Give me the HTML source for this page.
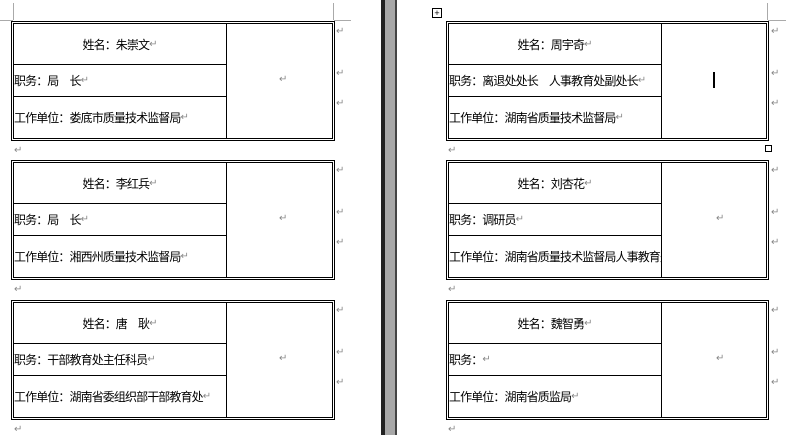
<!DOCTYPE html>
<html><head><meta charset="utf-8"><style>
body{margin:0;width:786px;height:435px;background:#fff;position:relative;overflow:hidden;font-family:"Liberation Sans","Noto Sans CJK SC","WenQuanYi Zen Hei",sans-serif;font-size:12px;color:#000}
.a{position:absolute}
.t{position:absolute;height:120px;box-sizing:border-box;border:3px double #000}
.c{position:absolute;left:0;display:flex;align-items:center;white-space:nowrap;box-sizing:border-box;letter-spacing:-0.9px}
.r1{top:0;height:41px;justify-content:center;border-bottom:1px solid #000}
.r2{top:41px;height:32px;border-bottom:1px solid #000}
.r3{top:73px;height:41px}
.v{position:absolute;top:0;bottom:0;border-left:1px solid #000}
.p{color:#888;font-size:10px;letter-spacing:0}
.pm{position:absolute;color:#888;font-size:10px}
</style></head><body>
<div class="a" style="left:381px;top:0;width:4px;height:435px;background:#222"></div>
<div class="a" style="left:385px;top:0;width:10px;height:435px;background:#a8a8a8"></div>
<div class="a" style="left:395px;top:0;width:2px;height:435px;background:#444"></div>
<div class="a" style="left:13px;top:3px;width:1px;height:17px;background:#aaa"></div>
<div class="a" style="left:0;top:20px;width:13px;height:1px;background:#aaa"></div>
<div class="a" style="left:333px;top:3px;width:1px;height:17px;background:#aaa"></div>
<div class="a" style="left:334px;top:20px;width:17px;height:1px;background:#aaa"></div>
<div class="a" style="left:767px;top:3px;width:1px;height:17px;background:#aaa"></div>
<div class="a" style="left:768px;top:20px;width:18px;height:1px;background:#aaa"></div>
<div class="a" style="left:432px;top:8px;width:10px;height:10px;border:1px solid #000;box-sizing:border-box;font-size:9px;line-height:8px;text-align:center">+</div>
<div class="a" style="left:765px;top:145px;width:7px;height:7px;border:1px solid #000;box-sizing:border-box"></div>
<div class="a" style="left:713px;top:72px;width:2px;height:16px;background:#000"></div>

<div class="t" style="left:11px;top:21px;width:324px"><div class="v" style="left:212px"></div>
<div class="c r1" style="width:212px">姓名：朱崇文<span class="p">↵</span></div>
<div class="c r2" style="width:212px">职务：局　长<span class="p">↵</span></div>
<div class="c r3" style="width:212px">工作单位：娄底市质量技术监督局<span class="p">↵</span></div></div>
<div class="t" style="left:11px;top:160px;width:324px"><div class="v" style="left:212px"></div>
<div class="c r1" style="width:212px">姓名：李红兵<span class="p">↵</span></div>
<div class="c r2" style="width:212px">职务：局　长<span class="p">↵</span></div>
<div class="c r3" style="width:212px">工作单位：湘西州质量技术监督局<span class="p">↵</span></div></div>
<div class="t" style="left:11px;top:300px;width:324px"><div class="v" style="left:212px"></div>
<div class="c r1" style="width:212px">姓名：唐　耿<span class="p">↵</span></div>
<div class="c r2" style="width:212px">职务：干部教育处主任科员<span class="p">↵</span></div>
<div class="c r3" style="width:212px">工作单位：湖南省委组织部干部教育处<span class="p">↵</span></div></div>

<div class="t" style="left:446px;top:21px;width:323px"><div class="v" style="left:212px"></div>
<div class="c r1" style="width:212px">姓名：周宇奇<span class="p">↵</span></div>
<div class="c r2" style="width:212px">职务：离退处处长　人事教育处副处长<span class="p">↵</span></div>
<div class="c r3" style="width:212px">工作单位：湖南省质量技术监督局<span class="p">↵</span></div></div>
<div class="t" style="left:446px;top:160px;width:323px"><div class="v" style="left:212px"></div>
<div class="c r1" style="width:212px">姓名：刘杏花<span class="p">↵</span></div>
<div class="c r2" style="width:212px">职务：调研员<span class="p">↵</span></div>
<div class="c r3" style="width:212px;overflow:hidden">工作单位：湖南省质量技术监督局人事教育处</div></div>
<div class="t" style="left:446px;top:300px;width:323px"><div class="v" style="left:212px"></div>
<div class="c r1" style="width:212px">姓名：魏智勇<span class="p">↵</span></div>
<div class="c r2" style="width:212px">职务：<span class="p">↵</span></div>
<div class="c r3" style="width:212px">工作单位：湖南省质监局<span class="p">↵</span></div></div>

<div class="pm" style="left:279px;top:74px">↵</div><div class="pm" style="left:279px;top:213px">↵</div><div class="pm" style="left:279px;top:353px">↵</div>
<div class="pm" style="left:716px;top:213px">↵</div><div class="pm" style="left:716px;top:353px">↵</div>
<div class="pm" style="left:14px;top:145px">↵</div><div class="pm" style="left:14px;top:284px">↵</div><div class="pm" style="left:14px;top:424px">↵</div>
<div class="pm" style="left:448px;top:145px">↵</div><div class="pm" style="left:448px;top:284px">↵</div><div class="pm" style="left:448px;top:424px">↵</div>
<div class="pm" style="left:336px;top:26px">↵</div><div class="pm" style="left:336px;top:68px">↵</div><div class="pm" style="left:336px;top:98px">↵</div>
<div class="pm" style="left:336px;top:165px">↵</div><div class="pm" style="left:336px;top:207px">↵</div><div class="pm" style="left:336px;top:237px">↵</div>
<div class="pm" style="left:336px;top:305px">↵</div><div class="pm" style="left:336px;top:347px">↵</div><div class="pm" style="left:336px;top:377px">↵</div>
<div class="pm" style="left:771px;top:26px">↵</div><div class="pm" style="left:771px;top:68px">↵</div><div class="pm" style="left:771px;top:98px">↵</div>
<div class="pm" style="left:771px;top:165px">↵</div><div class="pm" style="left:771px;top:207px">↵</div><div class="pm" style="left:771px;top:237px">↵</div>
<div class="pm" style="left:771px;top:305px">↵</div><div class="pm" style="left:771px;top:347px">↵</div><div class="pm" style="left:771px;top:377px">↵</div>
</body></html>
